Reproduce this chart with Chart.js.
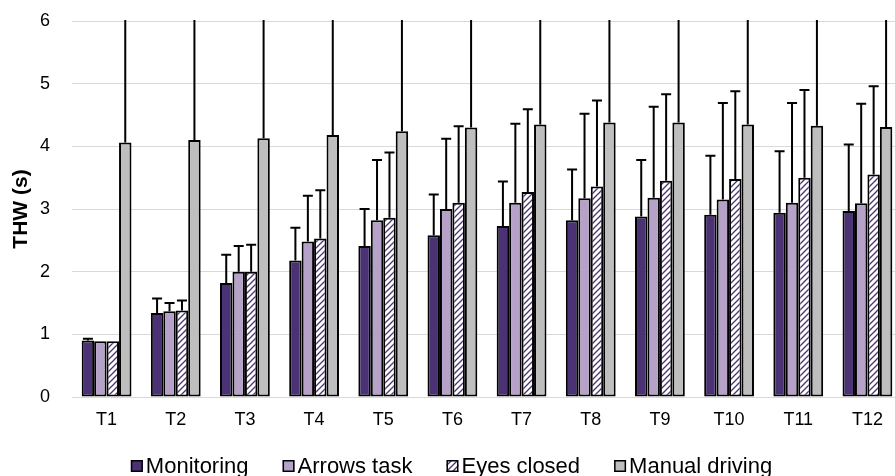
<!DOCTYPE html>
<html>
<head>
<meta charset="utf-8">
<script src="https://cdn.jsdelivr.net/npm/chart.js@4.4.1/dist/chart.umd.min.js"></script>
<style>
  html, body { margin: 0; padding: 0; background: #ffffff; overflow: hidden; }
  #wrap { width: 903px; height: 476px; }
</style>
</head>
<body>
<div id="wrap"><canvas id="thw" width="903" height="476"></canvas></div>
<script>
// Trials on the x axis
const trials = ['T1', 'T2', 'T3', 'T4', 'T5', 'T6', 'T7', 'T8', 'T9', 'T10', 'T11', 'T12'];

// Mean time headway (s) per condition
const monitoring    = [0.90, 1.34, 1.82, 2.18, 2.41, 2.58, 2.73, 2.82, 2.88, 2.91, 2.94, 2.97];
const arrowsTask    = [0.89, 1.37, 2.00, 2.48, 2.82, 3.00, 3.10, 3.17, 3.18, 3.15, 3.10, 3.09];
const eyesClosed    = [0.89, 1.38, 2.00, 2.53, 2.86, 3.10, 3.27, 3.36, 3.45, 3.48, 3.50, 3.55];
const manualDriving = [4.06, 4.10, 4.13, 4.18, 4.24, 4.30, 4.35, 4.38, 4.38, 4.35, 4.33, 4.31];

// Standard deviations (upper error bars)
const monitoringSD    = [0.03, 0.23, 0.45, 0.52, 0.59, 0.65, 0.71, 0.81, 0.90, 0.94, 0.98, 1.06];
const arrowsTaskSD    = [0.00, 0.13, 0.41, 0.73, 0.96, 1.12, 1.26, 1.35, 1.45, 1.54, 1.59, 1.59];
const eyesClosedSD    = [0.00, 0.16, 0.43, 0.77, 1.04, 1.22, 1.32, 1.37, 1.38, 1.40, 1.40, 1.41];
const manualDrivingSD = [2.60, 2.60, 2.60, 2.60, 2.60, 2.60, 2.60, 2.60, 2.60, 2.60, 2.60, 2.60];

// Y axis ticks
const yTicks = [0, 1, 2, 3, 4, 5, 6];

const FONT = "'Liberation Sans', Arial, sans-serif";

// Diagonal hatch fill for the "Eyes closed" bars
function hatchPattern() {
  const s = 6;
  const c = document.createElement('canvas');
  c.width = s; c.height = s;
  const g = c.getContext('2d');
  g.fillStyle = '#ffffff';
  g.fillRect(0, 0, s, s);
  g.strokeStyle = '#4b3275';
  g.lineWidth = 1.3;
  g.beginPath();
  g.moveTo(0, s); g.lineTo(s, 0);
  g.moveTo(-1, 1); g.lineTo(1, -1);
  g.moveTo(s - 1, s + 1); g.lineTo(s + 1, s - 1);
  g.stroke();
  return g.createPattern(c, 'repeat');
}

// Upper error bars drawn from each bar's top, clipped to the plot area
const errorBars = {
  id: 'errorBars',
  afterDatasetsDraw(chart) {
    const ctx = chart.ctx;
    const y = chart.scales.y;
    const area = chart.chartArea;
    ctx.save();
    ctx.beginPath();
    ctx.rect(area.left, area.top - 1, area.right - area.left, area.bottom - area.top + 1);
    ctx.clip();
    ctx.strokeStyle = '#000000';
    ctx.lineWidth = 2;
    chart.data.datasets.forEach((ds, i) => {
      const meta = chart.getDatasetMeta(i);
      meta.data.forEach((bar, j) => {
        const sd = ds.sd[j];
        if (!sd) return;
        const x = bar.x;
        const y0 = y.getPixelForValue(ds.data[j]);
        const y1 = y.getPixelForValue(ds.data[j] + sd);
        ctx.beginPath();
        ctx.moveTo(x, y0);
        ctx.lineTo(x, y1);
        ctx.moveTo(x - 5, y1);
        ctx.lineTo(x + 5, y1);
        ctx.stroke();
      });
    });
    ctx.restore();
  }
};

// Single-row legend under the x axis: small outlined swatch, tight label
const bottomLegend = {
  id: 'bottomLegend',
  afterDraw(chart) {
    const ctx = chart.ctx;
    const box = 12, textGap = 3, itemGap = 34, cy = 466;
    ctx.save();
    ctx.font = '22px ' + FONT;
    ctx.textBaseline = 'middle';
    const items = chart.data.datasets.map(ds => ({
      ds, w: box + textGap + ctx.measureText(ds.label).width
    }));
    const total = items.reduce((a, it) => a + it.w, 0) + itemGap * (items.length - 1);
    let x = chart.width / 2 - total / 2;
    items.forEach(it => {
      ctx.fillStyle = it.ds.backgroundColor;
      ctx.fillRect(x, cy - box / 2, box, box);
      ctx.strokeStyle = '#000000';
      ctx.lineWidth = 1.5;
      ctx.strokeRect(x + 0.75, cy - box / 2 + 0.75, box - 1.5, box - 1.5);
      ctx.fillStyle = '#000000';
      ctx.textAlign = 'left';
      ctx.fillText(it.ds.label, x + box + textGap, cy + 1);
      x += it.w + itemGap;
    });
    ctx.restore();
  }
};

const barCommon = {
  borderColor: '#000000',
  borderWidth: 2,
  borderSkipped: false,
  categoryPercentage: 0.72,
  barPercentage: 1.0
};

new Chart(document.getElementById('thw'), {
  type: 'bar',
  data: {
    labels: trials,
    datasets: [
      Object.assign({ label: 'Monitoring', data: monitoring, sd: monitoringSD, backgroundColor: '#4b3275' }, barCommon),
      Object.assign({ label: 'Arrows task', data: arrowsTask, sd: arrowsTaskSD, backgroundColor: '#b6a2c9' }, barCommon),
      Object.assign({ label: 'Eyes closed', data: eyesClosed, sd: eyesClosedSD, backgroundColor: hatchPattern() }, barCommon),
      Object.assign({ label: 'Manual driving', data: manualDriving, sd: manualDrivingSD, backgroundColor: '#bebebe' }, barCommon)
    ]
  },
  options: {
    responsive: false,
    animation: false,
    devicePixelRatio: 1,
    layout: { padding: { top: 21, right: 1, left: 0, bottom: 0 } },
    scales: {
      x: {
        afterFit(scale) { scale.height = 79; },
        grid: { display: false, drawTicks: false },
        border: { display: false },
        ticks: { color: '#000000', font: { family: FONT, size: 18 }, padding: 12 }
      },
      y: {
        min: 0,
        max: 6,
        afterBuildTicks(scale) { scale.ticks = yTicks.map(v => ({ value: v })); },
        afterFit(scale) {
          scale.width = 72;
          // tick padding is horizontal spacing here; keep it out of the vertical margins
          scale.paddingTop = 0;
          scale.paddingBottom = 0;
        },
        grid: { color: '#d9d9d9', lineWidth: 1, drawTicks: false, tickLength: 0 },
        border: { display: false },
        ticks: { color: '#000000', font: { family: FONT, size: 18 }, padding: 22 },
        title: {
          display: true,
          text: 'THW (s)',
          color: '#000000',
          font: { family: FONT, size: 21, weight: 'bold' },
          padding: { top: 9, bottom: 0 }
        }
      }
    },
    plugins: {
      legend: { display: false },
      tooltip: { enabled: false }
    }
  },
  plugins: [errorBars, bottomLegend]
});
</script>
</body>
</html>
